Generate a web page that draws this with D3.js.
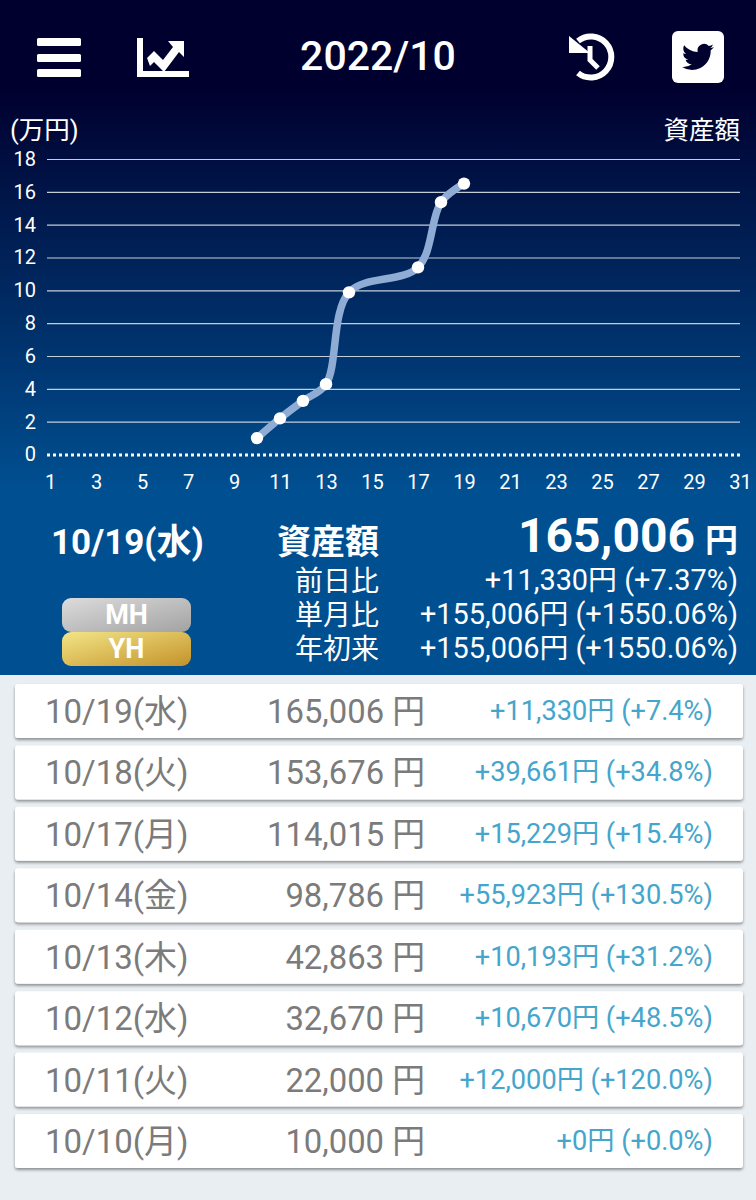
<!DOCTYPE html>
<html>
<head>
<meta charset="utf-8">
<script src="https://cdn.jsdelivr.net/npm/d3@7"></script>
<style>
  html, body { margin: 0; padding: 0; background: #e9eef2; }
  svg { display: block; }
  text { font-family: Roboto, "Noto Sans CJK JP", sans-serif; }
</style>
</head>
<body>
<div id="chart"></div>
<script>
// values
const days = [10, 11, 12, 13, 14, 17, 18, 19];
const assets = [10000, 22000, 32670, 42863, 98786, 114015, 153676, 165006];

const yTicks = [0, 2, 4, 6, 8, 10, 12, 14, 16, 18];
const xTicks = [1, 3, 5, 7, 9, 11, 13, 15, 17, 19, 21, 23, 25, 27, 29, 31];

const rowDates = ["10/19(水)", "10/18(火)", "10/17(月)", "10/14(金)", "10/13(木)", "10/12(水)", "10/11(火)", "10/10(月)"];
const rowAssets = ["165,006", "153,676", "114,015", "98,786", "42,863", "32,670", "22,000", "10,000"];
const rowChanges = ["+11,330円 (+7.4%)", "+39,661円 (+34.8%)", "+15,229円 (+15.4%)", "+55,923円 (+130.5%)", "+10,193円 (+31.2%)", "+10,670円 (+48.5%)", "+12,000円 (+120.0%)", "+0円 (+0.0%)"];

const summaryLabels = ["前日比", "単月比", "年初来"];
const summaryValues = ["+11,330円 (+7.37%)", "+155,006円 (+1550.06%)", "+155,006円 (+1550.06%)"];

const width = 756, height = 1200;

const svg = d3.select("#chart").append("svg")
    .attr("width", width)
    .attr("height", height);

const defs = svg.append("defs");

function gradient(id, x2, y2, stops) {
    const g = defs.append("linearGradient").attr("id", id)
        .attr("x1", 0).attr("y1", 0).attr("x2", x2).attr("y2", y2);
    stops.forEach(s => g.append("stop").attr("offset", s[0]).attr("stop-color", s[1]));
}
gradient("panelBg", 0, 1, [[0, "#00002e"], [0.13, "#00002e"], [0.72, "#004f90"], [1, "#004f90"]]);
gradient("mhBg", 1, 1, [[0, "#dcdcdc"], [1, "#a2a2a2"]]);
gradient("yhBg", 1, 1, [[0, "#f3e586"], [1, "#c4922a"]]);

const shadow = defs.append("filter").attr("id", "cardShadow")
    .attr("x", "-5%").attr("y", "-20%").attr("width", "110%").attr("height", "150%");
shadow.append("feDropShadow").attr("dx", 0).attr("dy", 2).attr("stdDeviation", 1.6)
    .attr("flood-color", "#000").attr("flood-opacity", 0.4);

// page + header panel
svg.append("rect").attr("width", width).attr("height", height).attr("fill", "#e9eef2");
svg.append("rect").attr("width", width).attr("height", 675).attr("fill", "url(#panelBg)");

// header icons
const icons = svg.append("g").attr("fill", "#fff");
[38, 54, 69].forEach(y => icons.append("rect")
    .attr("x", 37).attr("y", y).attr("width", 44).attr("height", 8).attr("rx", 1.5));

icons.append("path")
    .attr("d", "M137 38h6v33h46v6h-52z");
icons.append("path")
    .attr("d", "M147 58l7-7 9 9 10-13-5-6h16v16l-5-5-15 20-10-10-4 4z");

svg.append("text").attr("x", 378).attr("y", 70)
    .attr("text-anchor", "middle").attr("font-size", 41).attr("font-weight", 500)
    .attr("fill", "#fff").text("2022/10");

const clock = svg.append("g");
clock.append("path")
    .attr("d", "M578 41A20.5 20.5 0 1 1 578 73")
    .attr("fill", "none").attr("stroke", "#fff").attr("stroke-width", 6);
clock.append("path").attr("d", "M569 36l21 17h-21z").attr("fill", "#fff");
clock.append("path").attr("d", "M590 46v14l8 8")
    .attr("fill", "none").attr("stroke", "#fff").attr("stroke-width", 5);

svg.append("rect").attr("x", 672).attr("y", 31)
    .attr("width", 52).attr("height", 52).attr("rx", 6).attr("fill", "#fff");
svg.append("path")
    .attr("transform", "translate(682,41) scale(1.33)")
    .attr("fill", "#00002e")
    .attr("d", "M23.953 4.57a10 10 0 01-2.825.775 4.958 4.958 0 002.163-2.723c-.951.555-2.005.959-3.127 1.184a4.92 4.92 0 00-8.384 4.482C7.69 8.095 4.067 6.13 1.64 3.162a4.822 4.822 0 00-.666 2.475c0 1.71.87 3.213 2.188 4.096a4.904 4.904 0 01-2.228-.616v.06a4.923 4.923 0 003.946 4.827 4.996 4.996 0 01-2.212.085 4.936 4.936 0 004.604 3.417 9.867 9.867 0 01-6.102 2.105c-.39 0-.779-.023-1.17-.067a13.995 13.995 0 007.557 2.209c9.053 0 13.998-7.496 13.998-13.985 0-.21 0-.42-.015-.63A9.935 9.935 0 0024 4.59z");

// chart
const x = d3.scaleLinear().domain([1, 31]).range([50, 740]);
const y = d3.scaleLinear().domain([0, 18]).range([454.5, 159]);

svg.append("text").attr("x", 10).attr("y", 139).attr("font-size", 25.5).attr("fill", "#fff").text("(万円)");
svg.append("text").attr("x", 740).attr("y", 139).attr("text-anchor", "end").attr("font-size", 25.5).attr("fill", "#fff").text("資産額");

const yAxis = svg.append("g")
    .attr("transform", "translate(47,0)")
    .call(d3.axisLeft(y).tickValues(yTicks).tickSize(-693).tickPadding(11));
yAxis.select(".domain").remove();
yAxis.selectAll("text").attr("font-size", 20).attr("fill", "#fff")
    .style("font-family", "Roboto, sans-serif");
yAxis.selectAll("line")
    .attr("stroke", d => d === 0 ? "#fff" : "#c4cdd8")
    .attr("stroke-width", d => d === 0 ? 3 : 1.2)
    .attr("stroke-dasharray", d => d === 0 ? "3 3" : null);

const xAxis = svg.append("g")
    .attr("transform", "translate(0,472)")
    .call(d3.axisBottom(x).tickValues(xTicks).tickFormat(d3.format("d")).tickSize(0).tickPadding(3));
xAxis.select(".domain").remove();
xAxis.selectAll("text").attr("font-size", 20).attr("fill", "#fff")
    .style("font-family", "Roboto, sans-serif");

const points = days.map((d, i) => ({ day: d, man: assets[i] / 10000 }));

const line = d3.line()
    .x(d => x(d.day))
    .y(d => y(d.man))
    .curve(d3.curveCatmullRom.alpha(0.5));

svg.append("path").datum(points)
    .attr("d", line)
    .attr("fill", "none")
    .attr("stroke", "#8fadd4")
    .attr("stroke-width", 7.5);

svg.append("g").selectAll("circle")
    .data(points)
    .join("circle")
    .attr("cx", d => x(d.day))
    .attr("cy", d => y(d.man))
    .attr("r", 6.2)
    .attr("fill", "#fff");

// summary block
svg.append("text").attr("x", 51).attr("y", 554)
    .attr("font-size", 35).attr("font-weight", 700).attr("fill", "#fff").text(rowDates[0]);
svg.append("text").attr("x", 379).attr("y", 554).attr("text-anchor", "end")
    .attr("font-size", 34).attr("font-weight", 700).attr("fill", "#fff").text("資産額");

const total = svg.append("text").attr("x", 738).attr("y", 552).attr("text-anchor", "end").attr("fill", "#fff");
total.append("tspan").attr("font-size", 48).attr("font-weight", 700).text(rowAssets[0]);
total.append("tspan").attr("font-size", 33).attr("font-weight", 700).attr("dx", 10).text("円");

svg.append("g").selectAll("text")
    .data(summaryLabels)
    .join("text")
    .attr("x", 379)
    .attr("y", (d, i) => 591 + i * 34)
    .attr("text-anchor", "end")
    .attr("font-size", 28)
    .attr("fill", "#fff")
    .text(d => d);

svg.append("g").selectAll("text")
    .data(summaryValues)
    .join("text")
    .attr("x", 738)
    .attr("y", (d, i) => 590 + i * 34)
    .attr("text-anchor", "end")
    .attr("font-size", 28.9)
    .attr("fill", "#fff")
    .text(d => d);

// MH / YH badges
[["MH", 598, "url(#mhBg)"], ["YH", 632, "url(#yhBg)"]].forEach(b => {
    svg.append("rect").attr("x", 62).attr("y", b[1])
        .attr("width", 129).attr("height", 34).attr("rx", 9).attr("fill", b[2]);
    svg.append("text").attr("x", 126.5).attr("y", b[1] + 26)
        .attr("text-anchor", "middle").attr("font-size", 27).attr("font-weight", 700)
        .attr("fill", "#fff").text(b[0]);
});

// daily list
const rowY = d3.scalePoint().domain(d3.range(rowDates.length)).range([684, 1114]);

const rows = svg.append("g").selectAll("g")
    .data(rowDates)
    .join("g")
    .attr("transform", (d, i) => `translate(0,${rowY(i)})`);

rows.append("rect")
    .attr("x", 15).attr("width", 728).attr("height", 54).attr("rx", 3)
    .attr("fill", "#fff").attr("filter", "url(#cardShadow)");

rows.append("text")
    .attr("x", 45).attr("y", 39)
    .attr("font-size", 33).attr("fill", "#7b7b7b")
    .text(d => d);

rows.append("text")
    .attr("x", 425).attr("y", 39).attr("text-anchor", "end")
    .attr("font-size", 32.8).attr("fill", "#7b7b7b")
    .text((d, i) => rowAssets[i] + " 円");

rows.append("text")
    .attr("x", 713).attr("y", 36).attr("text-anchor", "end")
    .attr("font-size", 27.2).attr("fill", "#45a5cc")
    .text((d, i) => rowChanges[i]);
</script>
</body>
</html>
